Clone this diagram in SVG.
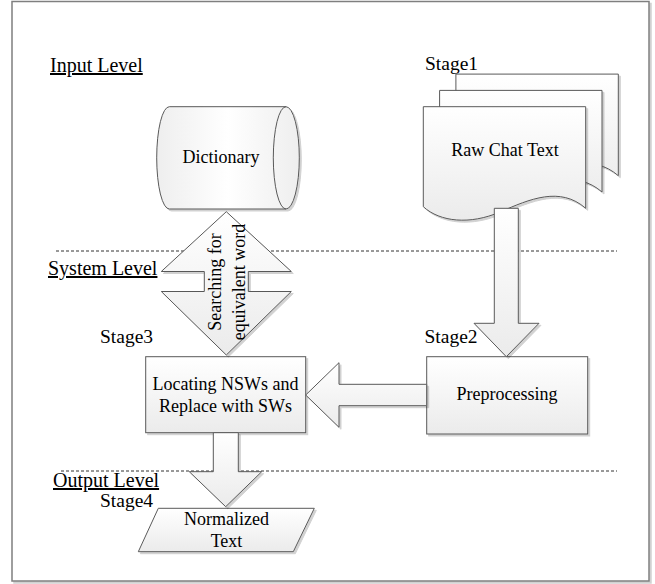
<svg xmlns="http://www.w3.org/2000/svg" width="655" height="584" viewBox="0 0 655 584">
<defs>
<linearGradient id="g" x1="0" y1="0" x2="0" y2="1">
<stop offset="0" stop-color="#ffffff"/>
<stop offset="1" stop-color="#ebebeb"/>
</linearGradient>
<linearGradient id="gh" x1="0" y1="0" x2="1" y2="0">
<stop offset="0" stop-color="#eeeeee"/>
<stop offset="0.5" stop-color="#ffffff"/>
<stop offset="1" stop-color="#eeeeee"/>
</linearGradient>
<filter id="sh" x="-10%" y="-10%" width="130%" height="130%">
<feDropShadow dx="2" dy="2" stdDeviation="0.6" flood-color="#000" flood-opacity="0.18"/>
</filter>
</defs>
<style>
.s{fill:url(#g);stroke:#595959;stroke-width:1;filter:url(#sh)}
.t{font-family:"Liberation Serif","Times New Roman",serif;font-size:18px;fill:#000}
.lv{font-family:"Liberation Serif","Times New Roman",serif;font-size:20px;fill:#000;text-decoration:underline}
.st{font-family:"Liberation Serif","Times New Roman",serif;font-size:19.5px;fill:#000}
.d{stroke:#333;stroke-width:1;stroke-dasharray:3,2;fill:none}
.m{text-anchor:middle}
</style>
<rect x="12" y="1.5" width="637" height="579.5" fill="#fff" stroke="#7f7f7f" stroke-width="1.5" filter="url(#sh)"/>
<g id="dashes">
<line class="d" x1="56" y1="251" x2="617" y2="251"/>
<line class="d" x1="61" y1="471" x2="617" y2="471"/>
</g>
<g id="labels">
<text class="lv" x="50" y="72">Input Level</text>
<text class="lv" x="48" y="275">System Level</text>
<text class="lv" x="53" y="487">Output Level</text>
<text class="st" x="425" y="70">Stage1</text>
<text class="st" x="424.5" y="343">Stage2</text>
<text class="st" x="100" y="343">Stage3</text>
<text class="st" x="100" y="507">Stage4</text>
</g>
<g id="dictionary">
<path class="s" style="fill:url(#gh)" d="M169.3,106.7 L286,106.7 A13.3,51.15 0 0 1 286,209 L169.3,209 A12.6,51.15 0 0 1 169.3,106.7 Z"/>
<path d="M286,106.7 A12.7,51.15 0 0 0 286,209" fill="none" stroke="#595959" stroke-width="1"/>
<text class="t m" x="221" y="163">Dictionary</text>
</g>
<g id="rawchat">
<path class="s" transform="translate(32.6,-32.6)" d="M423.3,106.7 H585.7 V208.3 C560,186 530,199 500,212 C470,225 440,222 423.3,206.7 Z"/>
<path class="s" transform="translate(16.3,-16.3)" d="M423.3,106.7 H585.7 V208.3 C560,186 530,199 500,212 C470,225 440,222 423.3,206.7 Z"/>
<path class="s" d="M423.3,106.7 H585.7 V208.3 C560,186 530,199 500,212 C470,225 440,222 423.3,206.7 Z"/>
<text class="t m" x="505" y="156">Raw Chat Text</text>
</g>
<g id="preprocessing">
<rect class="s" x="426.7" y="356.7" width="161" height="77.3"/>
<text class="t m" x="507" y="400">Preprocessing</text>
</g>
<g id="locating">
<rect class="s" x="145.7" y="356.7" width="160" height="76"/>
<text class="t m" x="225.5" y="390">Locating NSWs and</text>
<text class="t m" x="225.5" y="412">Replace with SWs</text>
</g>
<g id="normalized">
<path class="s" d="M158.3,508.3 H314.3 L293.3,551.7 H138.3 Z"/>
<text class="t m" x="226.5" y="525">Normalized</text>
<text class="t m" x="226.5" y="547">Text</text>
</g>
<g id="connectors">
<g id="search-arrow">
<path class="s" d="M226.3,211.7 L291.3,271.5 H248.3 V291.5 H291.3 L226.3,355 L161.3,291.5 H204.3 V271.5 H161.3 Z"/>
<text class="t m" transform="translate(221,282) rotate(-90)">Searching for</text>
<text class="t m" transform="translate(245,282) rotate(-90)">equivalent word</text>
</g>
<path class="s" d="M494.3,208.3 H518.3 V323.3 H539 L506.3,356.7 L474,323.3 H494.3 Z"/>
<path class="s" d="M305.7,395 L339,362.7 V384.3 H426.7 V405.7 H339 V427.3 Z"/>
<path class="s" d="M213.3,432.7 H238.3 V471.7 H261.7 L225.7,506.7 L189.3,471.7 H213.3 Z"/>
</g>
</svg>
